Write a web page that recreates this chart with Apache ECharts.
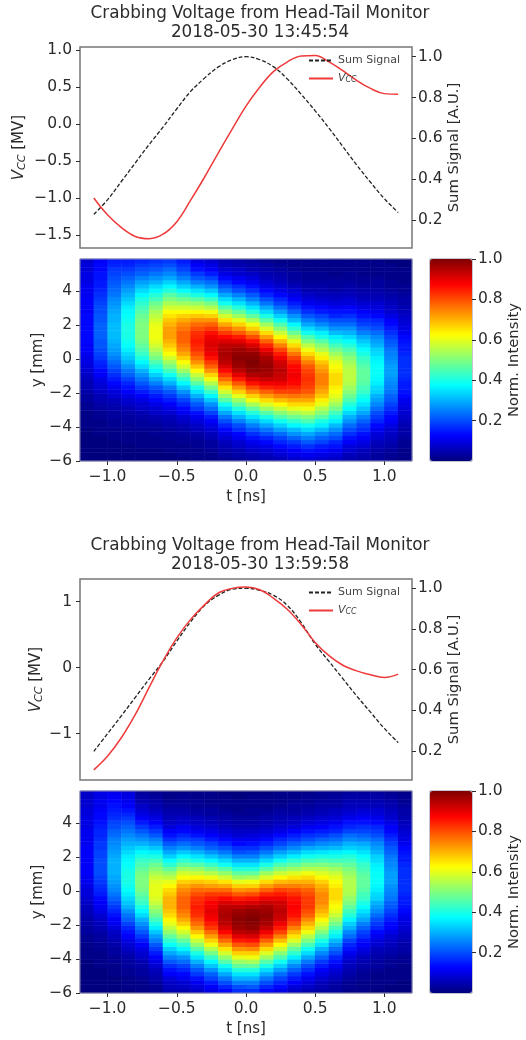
<!DOCTYPE html>
<html>
<head>
<meta charset="utf-8">
<title>Crabbing Voltage from Head-Tail Monitor</title>
<script src="https://cdn.jsdelivr.net/npm/echarts@6/dist/echarts.min.js"></script>
<style>
html, body { margin: 0; padding: 0; background: #fff; }
#chart { width: 526px; height: 1040px; filter: blur(0.5px); }
</style>
</head>
<body>
<div id="chart"></div>
<script>
var titleTop = 'Crabbing Voltage from Head-Tail Monitor\n2018-05-30 13:45:54';
var titleBottom = 'Crabbing Voltage from Head-Tail Monitor\n2018-05-30 13:59:58';

// line traces, t in ns
var tLine = [-1.1, -1.0, -0.9, -0.8, -0.7, -0.6, -0.5, -0.4, -0.3, -0.2, -0.1, 0.0, 0.1, 0.2, 0.3, 0.4, 0.5, 0.6, 0.7, 0.8, 0.9, 1.0, 1.1];
var sumTop = [0.228, 0.30, 0.39, 0.48, 0.57, 0.655, 0.745, 0.83, 0.895, 0.95, 0.985, 1.0, 0.985, 0.95, 0.89, 0.815, 0.735, 0.65, 0.56, 0.47, 0.385, 0.305, 0.237];
var vccTop = [-1.0, -1.23, -1.40, -1.52, -1.55, -1.49, -1.32, -1.03, -0.72, -0.39, -0.07, 0.24, 0.50, 0.71, 0.84, 0.92, 0.925, 0.84, 0.72, 0.59, 0.48, 0.41, 0.40];
var sumBottom = [0.197, 0.285, 0.373, 0.463, 0.553, 0.64, 0.74, 0.835, 0.915, 0.965, 0.995, 1.0, 0.99, 0.965, 0.915, 0.83, 0.725, 0.64, 0.555, 0.47, 0.39, 0.31, 0.24];
var vccBottom = [-1.55, -1.34, -1.06, -0.71, -0.30, 0.10, 0.45, 0.73, 0.95, 1.13, 1.2, 1.22, 1.18, 1.05, 0.88, 0.65, 0.38, 0.18, 0.035, -0.05, -0.11, -0.15, -0.10];

// heatmap bins: columns of t, rows of y from the bottom up
var tBins = ['-1.15', '-1.05', '-0.95', '-0.85', '-0.75', '-0.65', '-0.55', '-0.45', '-0.35', '-0.25', '-0.15', '-0.05', '0.05', '0.15', '0.25', '0.35', '0.45', '0.55', '0.65', '0.75', '0.85', '0.95', '1.05', '1.15'];
var yBins = ['-5.875', '-5.625', '-5.375', '-5.125', '-4.875', '-4.625', '-4.375', '-4.125', '-3.875', '-3.625', '-3.375', '-3.125', '-2.875', '-2.625', '-2.375', '-2.125', '-1.875', '-1.625', '-1.375', '-1.125', '-0.875', '-0.625', '-0.375', '-0.125', '0.125', '0.375', '0.625', '0.875', '1.125', '1.375', '1.625', '1.875', '2.125', '2.375', '2.625', '2.875', '3.125', '3.375', '3.625', '3.875', '4.125', '4.375', '4.625', '4.875', '5.125', '5.375', '5.625', '5.875'];

// intensity in percent, one line per t column
var heatTop = [
	[0,0,0,0,0,0,0,0,1,1,1,1,2,2,3,3,4,5,5,6,7,8,9,10,10,11,12,12,13,13,13,13,13,13,13,12,12,12,12,11,11,11,10,10,10,9,9,8],
	[0,0,0,0,0,0,1,1,1,1,2,2,3,4,5,5,7,8,9,10,12,13,15,16,18,19,20,21,21,22,22,22,22,21,21,20,20,19,18,17,16,15,15,14,14,13,13,12],
	[0,0,0,0,0,1,1,1,2,2,3,3,4,5,6,8,9,11,13,15,17,19,21,23,25,27,28,29,30,31,31,31,31,30,30,29,28,27,26,24,23,22,21,20,19,18,16,15],
	[0,0,0,0,1,1,1,2,2,3,3,4,5,7,8,10,12,14,16,19,22,24,27,30,32,34,36,38,39,40,40,40,40,39,38,37,36,34,32,30,28,26,24,22,20,18,16,15],
	[0,0,0,1,1,1,1,2,3,3,4,5,7,8,10,12,15,18,21,24,27,30,34,37,40,43,45,47,49,50,50,50,50,49,48,46,44,42,40,37,34,31,28,25,22,20,18,16],
	[0,0,0,1,1,1,2,2,3,4,5,7,8,10,13,15,18,21,25,29,33,37,41,45,49,52,55,58,60,61,61,61,60,58,56,54,51,48,44,41,37,34,30,27,24,21,19,17],
	[0,0,1,1,1,2,2,3,4,5,6,8,10,12,15,18,21,25,30,34,39,44,49,53,58,62,65,68,70,72,72,72,70,68,65,62,58,54,50,46,41,37,33,29,26,23,20,18],
	[0,1,1,1,2,2,3,4,5,7,8,11,13,16,19,23,27,32,37,42,47,53,58,62,67,71,74,76,78,78,78,76,74,71,67,62,58,53,48,43,38,33,29,25,22,19,17,15],
	[1,1,1,2,2,3,4,6,7,9,11,14,18,21,25,30,35,40,46,52,57,63,68,73,77,80,83,84,85,84,83,80,77,73,68,63,57,52,46,40,35,30,25,21,18,14,12,10],
	[1,1,2,3,3,5,6,8,10,12,15,19,23,27,32,37,43,49,55,61,67,73,78,82,86,89,90,91,90,89,86,82,78,73,67,61,55,49,43,37,32,27,23,19,15,12,10,8],
	[2,3,4,5,6,8,10,13,16,20,24,29,34,39,46,52,58,65,71,77,82,87,91,94,95,96,95,94,91,87,82,77,71,65,58,52,46,39,34,29,24,20,16,13,10,8,6,5],
	[3,4,5,7,8,11,13,17,20,25,30,35,41,47,53,60,67,73,79,85,90,94,97,98,99,98,97,94,90,85,79,73,67,60,53,47,41,35,30,25,20,17,13,11,8,7,5,4],
	[4,5,7,9,11,14,17,21,25,30,35,41,47,54,61,67,74,80,86,91,95,98,99,100,99,98,95,91,86,80,74,67,61,54,47,41,35,30,25,21,17,14,11,9,7,5,4,3],
	[5,6,8,10,13,16,20,24,29,34,40,46,53,59,66,72,78,84,89,93,96,97,98,97,96,93,89,84,78,72,66,59,53,46,40,34,29,24,20,16,13,10,8,6,5,4,3,2],
	[6,8,10,13,16,19,23,28,33,39,45,51,57,63,69,75,81,85,89,92,93,94,93,92,89,85,81,75,69,63,57,51,45,39,33,28,23,19,16,13,10,8,6,5,4,3,2,1],
	[8,10,12,15,18,22,27,31,37,42,48,54,60,66,71,76,81,84,87,88,89,88,87,84,81,76,71,66,60,54,48,42,37,31,27,22,18,15,12,10,8,6,4,3,3,2,1,1],
	[9,11,14,17,21,25,29,34,39,45,50,56,61,66,71,75,79,81,82,83,82,81,79,75,71,66,61,56,50,45,39,34,29,25,21,17,14,11,9,7,5,4,3,2,2,1,1,1],
	[8,10,13,15,19,22,26,31,36,40,46,51,55,60,64,68,71,73,75,75,75,73,71,68,64,60,55,51,46,40,36,31,26,22,19,15,13,10,8,6,5,4,3,2,2,1,1,1],
	[7,9,11,14,16,20,23,27,31,36,40,44,49,53,57,60,62,64,66,66,66,64,62,60,57,53,49,44,40,36,31,27,23,20,16,14,11,9,7,6,4,3,3,2,1,1,1,1],
	[5,6,8,9,12,14,17,20,23,27,30,34,38,41,45,48,51,53,55,56,56,56,55,53,51,48,45,41,38,34,30,27,23,20,17,14,12,9,8,6,5,4,3,2,2,1,1,1],
	[4,5,6,8,10,12,14,17,19,22,25,29,32,35,38,40,43,44,46,47,47,47,46,44,43,40,38,35,32,29,25,22,19,17,14,12,10,8,6,5,4,3,2,2,1,1,1,1],
	[3,3,4,5,6,8,9,11,13,16,18,20,23,26,28,30,33,34,36,37,38,38,38,37,36,34,33,30,28,26,23,20,18,16,13,11,9,8,6,5,4,3,3,2,1,1,1,1],
	[2,2,3,4,5,6,7,8,10,12,13,15,17,19,21,22,24,25,26,27,28,28,28,27,26,25,24,22,21,19,17,15,13,12,10,8,7,6,5,4,3,2,2,1,1,1,1,0],
	[1,1,1,2,2,3,4,4,5,6,7,8,9,10,11,13,14,15,15,16,17,17,17,17,17,16,15,15,14,13,11,10,9,8,7,6,5,4,4,3,2,2,1,1,1,1,0,0]
];
var heatBottom = [
	[0,0,0,0,0,0,0,0,1,1,1,1,2,2,3,3,4,4,5,6,6,7,8,9,9,10,11,11,12,12,12,12,12,12,12,11,11,11,11,10,10,10,9,9,8,8,7,7],
	[0,0,0,0,0,0,1,1,1,1,2,2,3,3,4,5,6,7,8,10,11,12,13,15,16,17,18,19,20,20,20,20,19,19,18,18,17,16,16,15,14,13,13,12,11,11,10,10],
	[0,0,0,0,1,1,1,2,2,3,3,4,5,6,7,9,11,12,14,16,18,20,22,24,26,27,28,29,30,30,30,30,29,28,27,26,25,23,22,20,19,17,16,15,14,13,12,11],
	[0,1,1,1,2,2,3,3,4,5,7,8,10,12,14,16,19,22,24,27,30,32,34,36,38,39,40,40,40,39,38,37,36,34,32,30,28,26,24,22,20,18,16,14,12,11,10,9],
	[1,1,1,2,3,3,4,5,7,8,10,12,15,18,21,24,27,30,34,37,40,43,45,47,49,50,50,50,49,47,45,43,40,37,34,30,27,24,21,18,15,12,10,8,7,5,4,3],
	[2,2,3,4,5,6,8,10,12,15,18,21,25,28,32,36,40,44,48,51,54,57,59,60,60,60,59,57,54,51,48,44,40,36,32,28,25,21,18,15,12,10,8,6,5,4,3,2],
	[5,6,7,9,12,14,17,21,25,29,33,38,42,47,52,56,60,63,66,68,70,70,70,68,66,63,60,56,52,47,42,38,33,29,25,21,17,14,12,9,7,6,5,4,3,2,1,1],
	[5,7,8,11,13,16,19,23,27,32,37,42,47,53,58,62,67,71,74,76,78,78,78,76,74,71,67,62,58,53,47,42,37,32,27,23,19,16,13,11,8,7,5,4,3,2,2,1],
	[7,9,11,14,18,21,25,30,35,40,46,52,57,63,68,73,77,80,83,84,85,84,83,80,77,73,68,63,57,52,46,40,35,30,25,21,18,14,11,9,7,6,4,3,2,2,1,1],
	[10,12,15,19,22,27,32,37,43,49,55,61,67,72,77,82,85,88,89,90,89,88,85,82,77,72,67,61,55,49,43,37,32,27,22,19,15,12,10,8,6,5,3,3,2,1,1,1],
	[13,16,20,24,29,34,39,46,52,58,65,71,77,82,87,91,94,95,96,95,94,91,87,82,77,71,65,58,52,46,39,34,29,24,20,16,13,10,8,6,5,4,3,2,1,1,1,0],
	[17,20,25,30,35,41,47,53,60,67,73,79,85,90,94,97,98,99,98,97,94,90,85,79,73,67,60,53,47,41,35,30,25,20,17,13,11,8,7,5,4,3,2,1,1,1,0,0],
	[17,21,25,30,35,41,47,54,61,67,74,80,86,91,95,98,99,100,99,98,95,91,86,80,74,67,61,54,47,41,35,30,25,21,17,14,11,9,7,5,4,3,2,2,1,1,1,0],
	[13,16,20,24,29,34,40,46,53,59,66,72,78,84,89,93,96,97,98,97,96,93,89,84,78,72,66,59,53,46,40,34,29,24,20,16,13,10,8,6,5,4,3,2,1,1,1,0],
	[10,13,16,19,23,28,33,39,45,51,57,63,69,75,81,85,89,92,93,94,93,92,89,85,81,75,69,63,57,51,45,39,33,28,23,19,16,13,10,8,6,5,4,3,2,1,1,1],
	[7,9,12,15,18,22,26,31,36,42,47,53,59,65,70,75,80,83,86,87,88,87,86,83,80,75,70,65,59,53,47,42,36,31,26,22,18,15,12,9,7,6,4,3,3,2,1,1],
	[5,7,9,11,14,17,20,24,29,34,39,44,50,55,61,66,70,74,78,80,82,82,82,80,78,74,70,66,61,55,50,44,39,34,29,24,20,17,14,11,9,7,5,4,3,2,2,1],
	[4,5,6,8,10,12,15,18,22,26,30,35,40,45,50,55,59,63,67,70,72,74,74,74,72,70,67,63,59,55,50,45,40,35,30,26,22,18,15,12,10,8,6,5,4,3,2,2],
	[3,3,4,6,7,9,11,14,16,20,23,27,31,36,40,44,49,53,57,60,62,64,66,66,66,64,62,60,57,53,49,44,40,36,31,27,23,20,16,14,11,9,7,6,4,3,3,2],
	[1,2,2,3,4,5,6,7,9,11,14,16,19,23,26,30,33,37,41,44,47,50,52,54,55,55,55,54,52,50,47,44,41,37,33,30,26,23,19,16,14,11,9,7,6,5,4,3],
	[1,1,1,2,2,3,4,5,6,8,10,12,14,17,19,22,25,29,32,35,38,40,43,44,46,47,47,47,46,44,43,40,38,35,32,29,25,22,19,17,14,12,10,8,6,5,4,3],
	[0,1,1,1,1,2,3,3,4,5,6,8,9,11,13,16,18,20,23,26,28,30,33,34,36,37,38,38,38,37,36,34,33,30,28,26,23,20,18,16,13,11,9,8,6,5,4,3],
	[0,0,1,1,1,1,2,2,3,4,5,6,7,8,10,12,13,15,17,19,21,22,24,25,26,27,28,28,28,27,26,25,24,22,21,19,17,15,13,12,10,8,7,6,5,4,3,2],
	[0,0,0,1,1,1,1,2,2,3,4,4,5,6,7,8,9,10,11,13,14,15,15,16,17,17,17,17,17,17,16,15,15,14,13,11,10,9,8,7,6,5,4,4,3,2,2,1]
];

// tick labels
var tTicks = [-1.0, -0.5, 0.0, 0.5, 1.0];
var yTicks = [-6, -4, -2, 0, 2, 4];
var sumTicks = [0.2, 0.4, 0.6, 0.8, 1.0];
var barTicks = [0.2, 0.4, 0.6, 0.8, 1.0];
var vccTicksTop = [-1.5, -1.0, -0.5, 0.0, 0.5, 1.0];
var vccTicksBottom = [-1, 0, 1];

var jet = ['#00007f', '#0000ff', '#007fff', '#00ffff', '#7fff7f', '#ffff00', '#ff7f00', '#ff0000', '#7f0000'];
var ink = '#2b2b2b';
var font = 'DejaVu Sans';

function fmt(digits) {
	return function (v) {
		return Number(v).toFixed(digits).replace('-', '\u2212');
	};
}

function tickAxis(opt) {
	var vertical = opt.position === 'left' || opt.position === 'right';
	var ax = {
		type: 'value',
		min: opt.min,
		max: opt.max,
		position: opt.position,
		gridIndex: opt.grid,
		splitLine: { show: false },
		axisLine: { show: false, onZero: false },
		axisTick: { show: true, length: 4, customValues: opt.ticks, lineStyle: { color: ink, width: 1 } },
		axisLabel: {
			show: true, margin: opt.margin || 6, customValues: opt.ticks, formatter: fmt(opt.digits),
			color: ink, fontFamily: font, fontSize: 15.5, padding: vertical ? [3, 0, 0, 0] : 0
		},
		name: opt.name,
		nameLocation: 'middle',
		nameGap: opt.nameGap,
		nameMoveOverlap: false,
		nameTextStyle: { color: ink, fontFamily: font, fontSize: opt.nameSize || 15, rich: opt.rich }
	};
	return ax;
}

var vccRich = {
	v: { fontFamily: font, fontStyle: 'italic', fontSize: 15, color: ink },
	s: { fontFamily: font, fontStyle: 'italic', fontSize: 11, color: ink, verticalAlign: 'bottom', padding: [6, 0, 0, 0] },
	t: { fontFamily: font, fontSize: 15, color: ink }
};

var option = {
	animation: false,
	backgroundColor: '#fff',
	title: [],
	legend: [],
	grid: [],
	xAxis: [],
	yAxis: [],
	visualMap: [],
	series: []
};

function addPanel(cfg) {
	var g = option.grid.length;
	var xi = option.xAxis.length;
	var yi = option.yAxis.length;

	option.title.push({
		text: cfg.title,
		left: 260,
		top: cfg.top - 42.5,
		padding: 0,
		textAlign: 'center',
		textStyle: { color: ink, fontFamily: font, fontSize: 16.8, fontWeight: 'normal', lineHeight: 19 }
	});

	// voltage and sum signal on twin axes
	option.grid.push({ left: 80, top: cfg.top, width: 332, height: 201, show: true, backgroundColor: '#fff', borderColor: '#777', borderWidth: 1.5 });
	option.xAxis.push({ type: 'value', gridIndex: g, min: -1.2, max: 1.2, show: false });
	option.yAxis.push(tickAxis({ grid: g, min: cfg.vccMin, max: cfg.vccMax, position: 'left', ticks: cfg.vccTicks, digits: cfg.vccDigits, margin: 8, name: '{v|V}{s|CC}{t| [MV]}', nameGap: cfg.vccGap, rich: vccRich }));
	option.yAxis.push(tickAxis({ grid: g, min: cfg.sumMin, max: cfg.sumMax, position: 'right', ticks: sumTicks, digits: 1, name: 'Sum Signal [A.U.]', nameGap: 35, nameSize: 14.8 }));
	option.series.push({
		name: 'Sum Signal', type: 'line', xAxisIndex: xi, yAxisIndex: yi + 1, symbol: 'none', smooth: 0.4, silent: true,
		lineStyle: { color: '#222', width: 1.3, type: [4, 2] },
		itemStyle: { color: '#222' },
		data: tLine.map(function (t, i) { return [t, cfg.sum[i]]; })
	});
	option.series.push({
		name: 'Vcc', type: 'line', xAxisIndex: xi, yAxisIndex: yi, symbol: 'none', smooth: 0.4, silent: true,
		lineStyle: { color: '#ee3a3a', width: 1.5 },
		itemStyle: { color: '#ee3a3a' },
		data: tLine.map(function (t, i) { return [t, cfg.vcc[i]]; })
	});
	option.legend.push({
		left: 308, top: cfg.top + 8, orient: 'vertical', padding: 0, itemGap: 7, itemWidth: 24, itemHeight: 12, selectedMode: false,
		itemStyle: { opacity: 0 },
		data: ['Sum Signal', 'Vcc'],
		formatter: function (n) { return n === 'Vcc' ? '{v|V}{s|CC}' : n; },
		textStyle: {
			color: '#444', fontFamily: font, fontSize: 11,
			rich: {
				v: { fontFamily: font, fontStyle: 'italic', fontSize: 11, color: '#444' },
				s: { fontFamily: font, fontStyle: 'italic', fontSize: 8, color: '#444', verticalAlign: 'bottom' }
			}
		}
	});

	// intensity map: category axes carry the bins, value axes carry the ticks
	var h = g + 1;
	var hTop = cfg.top + 212;
	option.grid.push({ left: 80, top: hTop, width: 332, height: 202, show: true, borderColor: '#8a8aa8', borderWidth: 1, z: 5 });
	var xCat = option.xAxis.length;
	var yCat = option.yAxis.length;
	option.xAxis.push({ type: 'category', gridIndex: h, data: tBins, show: false });
	option.yAxis.push({ type: 'category', gridIndex: h, data: yBins, show: false });
	option.xAxis.push(tickAxis({ grid: h, min: -1.2, max: 1.2, position: 'bottom', ticks: tTicks, digits: 1, margin: 8, name: 't [ns]', nameGap: 29 }));
	option.yAxis.push(tickAxis({ grid: h, min: -6, max: 5.9, position: 'left', ticks: yTicks, digits: 0, margin: 8, name: 'y [mm]', nameGap: 34 }));
	var cells = [];
	cfg.heat.forEach(function (col, i) {
		col.forEach(function (v, j) { cells.push([i, j, v / 100]); });
	});
	var seriesIndex = option.series.length;
	option.series.push({ type: 'heatmap', xAxisIndex: xCat, yAxisIndex: yCat, data: cells, silent: true, progressive: 0, emphasis: { disabled: true } });

	// colour bar with its own tick axis
	option.visualMap.push({
		type: 'continuous', seriesIndex: seriesIndex, min: 0, max: 1, left: 430, top: hTop, itemWidth: 42, itemHeight: 202,
		padding: 0, calculable: false, realtime: false, hoverLink: false, showLabel: false, inRange: { color: jet }
	});
	var b = g + 2;
	option.grid.push({ left: 430, top: hTop, width: 42, height: 202, show: true, backgroundColor: 'transparent', borderColor: '#8a8aa8', borderWidth: 1 });
	option.xAxis.push({ type: 'value', gridIndex: b, min: 0, max: 1, show: false });
	option.yAxis.push(tickAxis({ grid: b, min: 0, max: 1, position: 'right', ticks: barTicks, digits: 1, name: 'Norm. Intensity', nameGap: 35, nameSize: 14.8 }));
}

addPanel({ title: titleTop, top: 47, sum: sumTop, vcc: vccTop, heat: heatTop, vccMin: -1.676, vccMax: 1.04, sumMin: 0.063, sumMax: 1.0475, vccTicks: vccTicksTop, vccDigits: 1, vccGap: 52 });
addPanel({ title: titleBottom, top: 579, sum: sumBottom, vcc: vccBottom, heat: heatBottom, vccMin: -1.704, vccMax: 1.342, sumMin: 0.056, sumMax: 1.0457, vccTicks: vccTicksBottom, vccDigits: 0, vccGap: 35 });

var chart = echarts.init(document.getElementById('chart'));
chart.setOption(option);
</script>
</body>
</html>
